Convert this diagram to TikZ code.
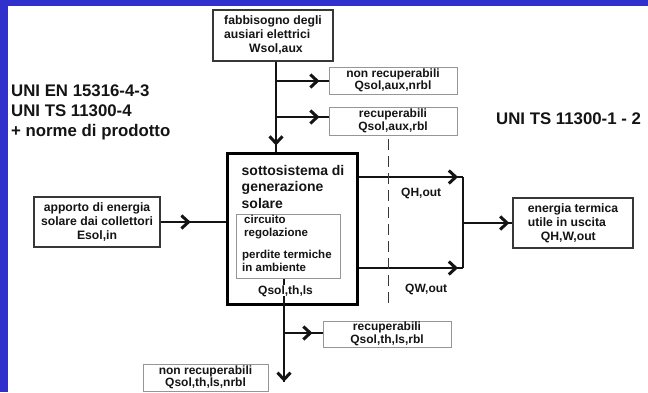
\documentclass[tikz,border=0pt]{standalone}
\usepackage{fontspec}
\setmainfont{Liberation Sans}
\usetikzlibrary{arrows.meta,decorations.markings}

\definecolor{slideblue}{RGB}{48,48,204}
\definecolor{ink}{RGB}{20,20,20}
\definecolor{frameline}{RGB}{55,55,55}
\definecolor{paleframe}{RGB}{150,150,150}

\tikzset{
  every node/.style={text=ink},
  flow/.style={draw=ink, line width=1.5pt, line join=miter},
  barb/.style={postaction={decorate}, decoration={markings,
      mark=at position #1 with {\arrow{Straight Barb[length=7pt,width=13pt,line width=3pt]}}}},
  darkbox/.style={draw=frameline, line width=1.3pt, inner sep=0pt,
      font=\fontsize{12.2}{14}\selectfont\bfseries},
  palebox/.style={draw=paleframe, line width=1pt, inner sep=0pt, align=center,
      font=\fontsize{12}{12.5}\selectfont\bfseries},
  mainbox/.style={draw=black, line width=3pt, inner sep=0pt},
  innerbox/.style={draw=paleframe, line width=1pt, inner sep=0pt},
  inntext/.style={inner sep=0pt, align=left, font=\fontsize{11.5}{13}\selectfont\bfseries},
  flowlabel/.style={inner sep=0pt, font=\fontsize{12}{14}\selectfont\bfseries},
  stdtext/.style={inner sep=0pt, align=left, font=\fontsize{16.8}{19.8}\selectfont\bfseries},
  boundary/.style={draw=frameline, line width=0.9pt, dash pattern=on 11pt off 6pt}
}

\begin{document}
\begin{tikzpicture}[x=1pt,y=-1pt]
\useasboundingbox (0,0) rectangle (648,392);
% slide background with its blue frame
\fill[slideblue] (0,0) rectangle (648,392);
\fill[white] (8,6) rectangle (648,392);

% reference standards
\node[stdtext, anchor=north west] (stdleft) at (11,85)
  {UNI EN 15316-4-3\\UNI TS 11300-4\\+ norme di prodotto};
\node[stdtext, anchor=base west] (stdright) at (496,124) {UNI TS 11300-1 - 2};

% boxes
\node[darkbox, align=left, minimum width=120pt, minimum height=51pt] (aux) at (273,35.5)
  {fabbisogno degli\\ausiari elettrici\\\hspace*{25pt}Wsol,aux};
\node[palebox, minimum width=128pt, minimum height=27pt] (auxnr) at (393,80.5)
  {non recuperabili\\Qsol,aux,nrbl};
\node[palebox, minimum width=128pt, minimum height=28pt] (auxr) at (393,121)
  {recuperabili\\Qsol,aux,rbl};
\node[darkbox, align=center, minimum width=126pt, minimum height=50pt] (esol) at (97,222)
  {apporto di energia\\solare dai collettori\\Esol,in};
\node[mainbox, minimum width=130pt, minimum height=151pt] (main) at (292,228.5) {};
\node[innerbox, minimum width=104pt, minimum height=64pt] (inner) at (288,246) {};
\node[darkbox, align=left, minimum width=120pt, minimum height=50pt] (out) at (573,223)
  {energia termica\\utile in uscita\\\hspace*{13pt}QH,W,out};
\node[palebox, minimum width=128pt, minimum height=26pt] (thr) at (387,334)
  {recuperabili\\Qsol,th,ls,rbl};
\node[palebox, minimum width=125pt, minimum height=27pt] (thnr) at (205.5,377.5)
  {non recuperabili\\Qsol,th,ls,nrbl};

% texts inside the generation subsystem
\node[anchor=north west, inner sep=0pt, align=left,
      font=\fontsize{14}{16.6}\selectfont\bfseries] (title) at (241.5,165)
  {sottosistema di\\generazione\\solare};
\node[inntext, anchor=north west] (ctrl) at (244,214.8) {circuito\\regolazione};
\node[inntext, anchor=north west] (amb) at (242,249.8) {perdite termiche\\in ambiente};

% junction points
\coordinate (ja) at (276,81);
\coordinate (jb) at (276,117);
\coordinate (jt) at (463,177);
\coordinate (jw) at (463,268);
\coordinate (jm) at (463,223);
\coordinate (jc) at (284,333);
\coordinate (jd) at (284,382);
\coordinate (dtop) at (388,139);
\coordinate (dbot) at (388,306);

% auxiliary energy
\draw[flow, barb=-6pt] (aux.south -| ja) -- (ja |- main.north);
\draw[flow, barb=-9pt] (ja) -- (ja -| auxnr.west);
\draw[flow, barb=-9pt] (jb) -- (jb -| auxr.west);

% solar input
\draw[flow, barb=30pt] (esol.east) -- (esol.east -| main.west);

% useful output
\draw[flow, barb=-5pt] (main.east |- jt) -- (jt);
\draw[flow, barb=-5pt] (main.east |- jw) -- (jw);
\draw[flow] (jt) -- (jw);
\draw[flow, barb=-3pt] (jm) -- (jm -| out.west);

% thermal losses
\draw[flow, barb=-0.2pt] (inner.south -| jc) -- (jd);
\draw[flow, barb=-10pt] (jc) -- (jc -| thr.west);

% system boundary
\draw[boundary] (dtop) -- (dbot);

% flow labels
\node[flowlabel, anchor=base west, fill=white, inner xsep=1.5pt] (qls) at (256.5,294) {Qsol,th,ls};
\node[flowlabel, anchor=base west] (qh) at (401,196) {QH,out};
\node[flowlabel, anchor=base west] (qw) at (405,292) {QW,out};
\end{tikzpicture}
\end{document}
